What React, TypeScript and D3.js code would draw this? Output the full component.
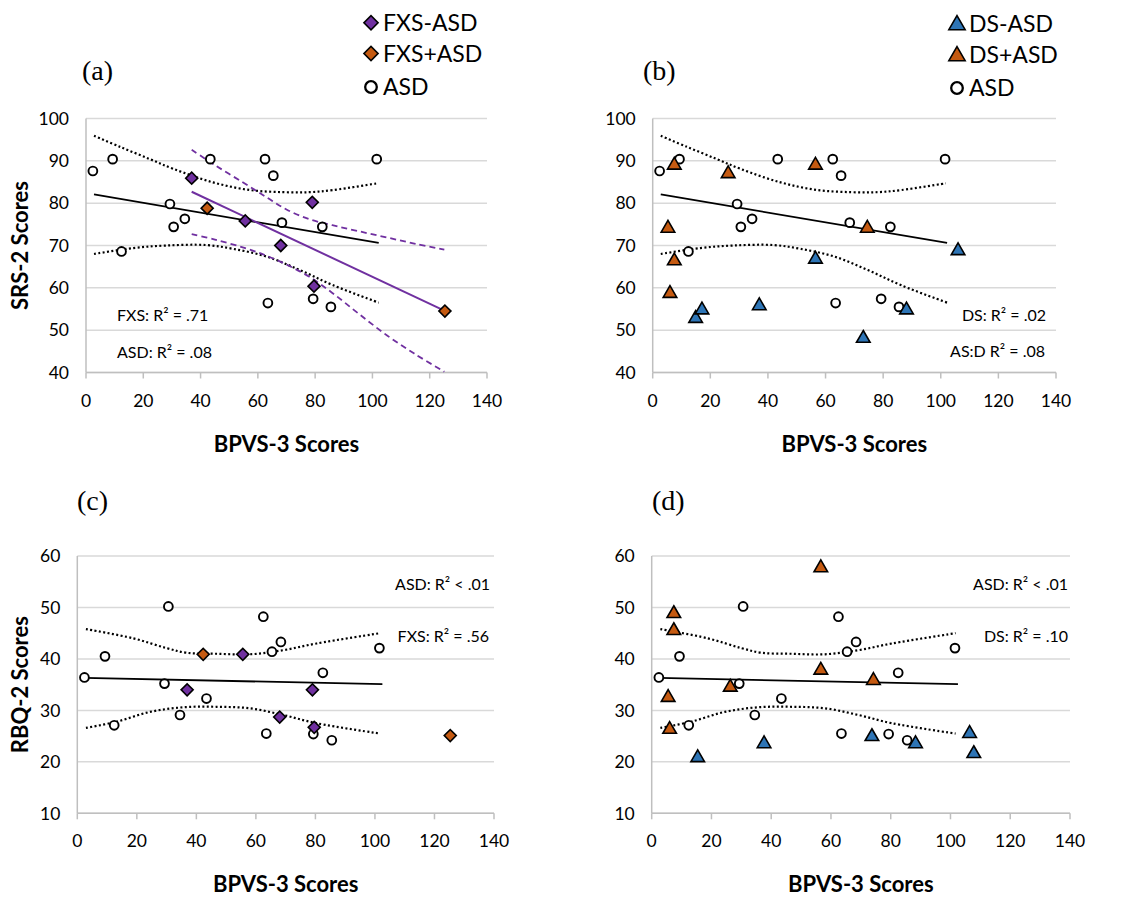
import React from 'react';
import * as d3 from 'd3';

// ---------- data ----------
const xTicks = [0, 20, 40, 60, 80, 100, 120, 140];
const srsTicks = [40, 50, 60, 70, 80, 90, 100];
const rbqTicks = [10, 20, 30, 40, 50, 60];

// ASD group (same participants in all panels)
const asdX = [2.4, 9.3, 12.4, 29.3, 30.6, 34.5, 43.4, 62.5, 63.5, 65.4, 68.4, 79.3, 82.5, 85.5, 101.5];
const asdSRS = [87.6, 90.4, 68.6, 79.8, 74.4, 76.3, 90.4, 90.4, 56.4, 86.5, 75.4, 57.4, 74.4, 55.5, 90.4];
const asdRBQ = [36.4, 40.5, 27.1, 35.2, 50.2, 29.1, 32.3, 48.2, 25.5, 41.4, 43.3, 25.4, 37.3, 24.2, 42.1];

// FXS groups
const fxsMinusX = [36.9, 55.6, 68.0, 79.0, 79.6];
const fxsMinusSRS = [85.9, 75.8, 70.0, 80.2, 60.4];
const fxsMinusRBQ = [34.0, 40.9, 28.7, 34.0, 26.7];
const fxsPlusX = [42.3, 125.3];
const fxsPlusSRS = [78.8, 54.5];
const fxsPlusRBQ = [40.9, 25.1];

// DS groups (panel b)
const dsPlusXb = [7.5, 26.2, 56.5, 5.3, 7.5, 6.0, 74.5];
const dsPlusSRS = [89.2, 87.2, 89.2, 74.3, 66.6, 58.9, 74.3];
const dsMinusXb = [14.9, 17.1, 37.0, 56.5, 73.1, 88.1, 106.0];
const dsMinusSRS = [53.0, 55.0, 56.0, 67.0, 48.3, 55.0, 69.0];
// DS groups (panel d)
const dsPlusXd = [56.6, 7.4, 7.4, 56.6, 74.2, 26.3, 5.5, 6.0];
const dsPlusRBQ = [57.9, 49.0, 45.7, 38.0, 36.0, 34.7, 32.7, 26.5];
const dsMinusXd = [15.4, 37.6, 73.7, 88.3, 106.4, 107.8];
const dsMinusRBQ = [21.0, 23.7, 25.1, 23.7, 25.7, 21.8];

// regression lines [x, y] endpoints
const asdSrsFit: [number, number][] = [[2.8, 82.06], [102.2, 70.6]];
const fxsSrsFit: [number, number][] = [[36.9, 82.7], [125.1, 54.6]];
const asdRbqFit: [number, number][] = [[2.4, 36.3], [102.5, 35.1]];

// confidence bands
const asdSrsUpper: [number, number][] = [[2.8, 95.9], [11.9, 93.3], [22.3, 90.4], [30.5, 88.1], [44.4, 84.9], [57.2, 83.1], [68.8, 82.6], [78.1, 82.6], [86.3, 83.1], [101.8, 84.7]];
const asdSrsLower: [number, number][] = [[2.8, 68.0], [16.5, 69.4], [28.1, 70.0], [42.1, 70.1], [51.4, 69.2], [63, 67.4], [74.7, 64.2], [86.3, 60.6], [102.2, 56.5]];
const fxsSrsUpper: [number, number][] = [[36.9, 92.6], [45, 89.0], [55, 84.8], [63, 81.4], [70, 78.5], [78, 76.2], [86, 74.8], [95, 73.4], [105, 71.9], [115, 70.4], [125.1, 69.0]];
const fxsSrsLower: [number, number][] = [[36.9, 72.7], [45, 71.4], [55, 69.5], [63, 67.6], [70, 65.5], [78, 62.6], [86, 58.8], [95, 54.0], [105, 48.8], [115, 44.3], [125.1, 40.2]];
const asdRbqUpper: [number, number][] = [[2.9, 45.8], [18.8, 44.0], [30, 42.1], [36.7, 41.2], [46.8, 41.0], [58, 40.9], [69.2, 41.7], [80.4, 43.0], [101.7, 45.0]];
const asdRbqLower: [number, number][] = [[2.9, 26.6], [13.2, 27.8], [24.4, 29.7], [35.6, 30.6], [46.8, 30.7], [58, 30.4], [69.2, 29.1], [80.4, 27.5], [101.7, 25.5]];

// ---------- styles ----------
const PURPLE = '#7030A0';
const ORANGE = '#C55A11';
const BLUE = '#2E75B6';
const GRID = '#d9d9d9';
const AXIS = '#bfbfbf';
const FONT = 'Lato, "Open Sans", sans-serif';
const SERIF = '"Liberation Serif", "DejaVu Serif", serif';

type Pt = [number, number];
type Series = { xs: number[]; ys: number[]; kind: 'circle' | 'diamond' | 'triangle'; fill: string };
type LineDef = { pts: Pt[]; color: string; dash?: string; width: number; curve?: boolean };
type Note = { text: string; x: number; y: number; anchor: 'start' | 'end' };

interface PanelProps {
  x0: number; x1: number; yTop: number; yBot: number;
  yDomain: [number, number]; yTicks: number[]; yTitle: string;
  label: string; labelX: number; labelY: number;
  series: Series[]; lines: LineDef[]; notes: Note[];
}

const diamondPath = d3.symbol().type(d3.symbolSquare).size(72)() as string;
const trianglePath = d3.symbol().type(d3.symbolTriangle).size(80)() as string;
const diamondLegend = d3.symbol().type(d3.symbolSquare).size(100)() as string;
const triangleLegend = d3.symbol().type(d3.symbolTriangle).size(115)() as string;

function Marker({ kind, fill, x, y, legend }: { kind: string; fill: string; x: number; y: number; legend?: boolean }) {
  if (kind === 'circle') {
    return <circle cx={x} cy={y} r={legend ? 5.8 : 4.4} fill="#fff" stroke="#000" strokeWidth={legend ? 2.3 : 1.9} />;
  }
  if (kind === 'diamond') {
    return <path d={legend ? diamondLegend : diamondPath} transform={`translate(${x},${y}) rotate(45)`} fill={fill} stroke="#000" strokeWidth={1.6} />;
  }
  return <path d={legend ? triangleLegend : trianglePath} transform={`translate(${x},${y + 1})`} fill={fill} stroke="#000" strokeWidth={1.6} strokeLinejoin="miter" />;
}

function Panel(p: PanelProps) {
  const xs = d3.scaleLinear().domain([0, 140]).range([p.x0, p.x1]);
  const ys = d3.scaleLinear().domain(p.yDomain).range([p.yBot, p.yTop]);
  const straight = d3.line<Pt>().x(d => xs(d[0])).y(d => ys(d[1]));
  const smooth = d3.line<Pt>().x(d => xs(d[0])).y(d => ys(d[1])).curve(d3.curveCatmullRom.alpha(0.5));
  const cx = (p.x0 + p.x1) / 2;
  const cy = (p.yTop + p.yBot) / 2;
  return (
    <g>
      <text x={p.labelX} y={p.labelY} fontFamily={SERIF} fontSize={28} fill="#000">{p.label}</text>
      {p.yTicks.map(t => (
        <line key={'g' + t} x1={p.x0} x2={p.x1} y1={ys(t)} y2={ys(t)} stroke={GRID} strokeWidth={1.5} />
      ))}
      <line x1={p.x0} x2={p.x0} y1={p.yTop} y2={p.yBot} stroke={AXIS} strokeWidth={1.5} />
      <line x1={p.x0} x2={p.x1} y1={p.yBot} y2={p.yBot} stroke={AXIS} strokeWidth={1.5} />
      {xTicks.map(t => (
        <line key={'t' + t} x1={xs(t)} x2={xs(t)} y1={p.yBot} y2={p.yBot + 6} stroke={AXIS} strokeWidth={1.5} />
      ))}
      {p.yTicks.map(t => (
        <text key={'yl' + t} x={p.x0 - 17} y={ys(t)} dy="0.36em" textAnchor="end" fontFamily={FONT} fontSize={17.5} fill="#000">{t}</text>
      ))}
      {xTicks.map(t => (
        <text key={'xl' + t} x={xs(t)} y={p.yBot + 34} textAnchor="middle" fontFamily={FONT} fontSize={17.5} fill="#000">{t}</text>
      ))}
      <text x={cx} y={p.yBot + 79} textAnchor="middle" fontFamily={FONT} fontWeight="bold" fontSize={22} fill="#000">BPVS-3 Scores</text>
      <text transform={`translate(28,${cy}) rotate(-90)`} textAnchor="middle" fontFamily={FONT} fontWeight="bold" fontSize={22} fill="#000">{p.yTitle}</text>
      {p.lines.map((l, i) => (
        <path key={'l' + i} d={(l.curve ? smooth : straight)(l.pts) as string} fill="none" stroke={l.color} strokeWidth={l.width} strokeDasharray={l.dash} />
      ))}
      {p.series.map((s, i) => (
        <g key={'s' + i}>
          {s.xs.map((xv, j) => (
            <Marker key={j} kind={s.kind} fill={s.fill} x={xs(xv)} y={ys(s.ys[j])} />
          ))}
        </g>
      ))}
      {p.notes.map((n, i) => (
        <text key={'n' + i} x={n.x} y={n.y} textAnchor={n.anchor} fontFamily={FONT} fontSize={16} fill="#000">{n.text}</text>
      ))}
    </g>
  );
}

function Legend({ x, rows }: { x: number; rows: { y: number; kind: string; fill: string; label: string }[] }) {
  return (
    <g>
      {rows.map((r, i) => (
        <g key={i}>
          <Marker kind={r.kind} fill={r.fill} x={x} y={r.y} legend />
          <text x={x + 12} y={r.y} dy="0.36em" fontFamily={FONT} fontSize={23} fill="#000">{r.label}</text>
        </g>
      ))}
    </g>
  );
}

const DOT = '2 2.4';

export default function App() {
  const asdLinesSRS: LineDef[] = [
    { pts: asdSrsUpper, color: '#000', dash: DOT, width: 2.2, curve: true },
    { pts: asdSrsLower, color: '#000', dash: DOT, width: 2.2, curve: true },
    { pts: asdSrsFit, color: '#000', width: 1.8 },
  ];
  const asdLinesRBQ: LineDef[] = [
    { pts: asdRbqUpper, color: '#000', dash: DOT, width: 2.2, curve: true },
    { pts: asdRbqLower, color: '#000', dash: DOT, width: 2.2, curve: true },
    { pts: asdRbqFit, color: '#000', width: 1.8 },
  ];
  return (
    <svg width={1148} height={899} style={{ position: 'absolute', left: 0, top: 0, background: '#fff' }}>
      <rect width={1148} height={899} fill="#fff" />
      <Legend x={371} rows={[
        { y: 22.7, kind: 'diamond', fill: PURPLE, label: 'FXS-ASD' },
        { y: 53.5, kind: 'diamond', fill: ORANGE, label: 'FXS+ASD' },
        { y: 87, kind: 'circle', fill: '#fff', label: 'ASD' },
      ]} />
      <Legend x={957} rows={[
        { y: 24, kind: 'triangle', fill: BLUE, label: 'DS-ASD' },
        { y: 55, kind: 'triangle', fill: ORANGE, label: 'DS+ASD' },
        { y: 88, kind: 'circle', fill: '#fff', label: 'ASD' },
      ]} />
      <Panel x0={86} x1={487} yTop={118.5} yBot={372.5} yDomain={[40, 100]} yTicks={srsTicks} yTitle="SRS-2 Scores"
        label="(a)" labelX={82} labelY={80}
        lines={[
          ...asdLinesSRS,
          { pts: fxsSrsUpper, color: PURPLE, dash: '6 4', width: 1.8, curve: true },
          { pts: fxsSrsLower, color: PURPLE, dash: '6 4', width: 1.8, curve: true },
          { pts: fxsSrsFit, color: PURPLE, width: 2 },
        ]}
        series={[
          { xs: asdX, ys: asdSRS, kind: 'circle', fill: '#fff' },
          { xs: fxsMinusX, ys: fxsMinusSRS, kind: 'diamond', fill: PURPLE },
          { xs: fxsPlusX, ys: fxsPlusSRS, kind: 'diamond', fill: ORANGE },
        ]}
        notes={[
          { text: 'FXS: R² = .71', x: 117, y: 321, anchor: 'start' },
          { text: 'ASD: R² = .08', x: 117, y: 358, anchor: 'start' },
        ]} />
      <Panel x0={652.7} x1={1056} yTop={118.5} yBot={372.5} yDomain={[40, 100]} yTicks={srsTicks} yTitle=""
        label="(b)" labelX={643} labelY={80}
        lines={asdLinesSRS}
        series={[
          { xs: asdX, ys: asdSRS, kind: 'circle', fill: '#fff' },
          { xs: dsPlusXb, ys: dsPlusSRS, kind: 'triangle', fill: ORANGE },
          { xs: dsMinusXb, ys: dsMinusSRS, kind: 'triangle', fill: BLUE },
        ]}
        notes={[
          { text: 'DS: R² = .02', x: 1046, y: 321, anchor: 'end' },
          { text: 'AS:D R² = .08', x: 1045, y: 357, anchor: 'end' },
        ]} />
      <Panel x0={77.3} x1={494} yTop={556} yBot={813.3} yDomain={[10, 60]} yTicks={rbqTicks} yTitle="RBQ-2 Scores"
        label="(c)" labelX={77} labelY={510}
        lines={asdLinesRBQ}
        series={[
          { xs: asdX, ys: asdRBQ, kind: 'circle', fill: '#fff' },
          { xs: fxsMinusX, ys: fxsMinusRBQ, kind: 'diamond', fill: PURPLE },
          { xs: fxsPlusX, ys: fxsPlusRBQ, kind: 'diamond', fill: ORANGE },
        ]}
        notes={[
          { text: 'ASD: R² < .01', x: 490, y: 590, anchor: 'end' },
          { text: 'FXS: R² = .56', x: 489, y: 642, anchor: 'end' },
        ]} />
      <Panel x0={651.7} x1={1070} yTop={556} yBot={813.3} yDomain={[10, 60]} yTicks={rbqTicks} yTitle=""
        label="(d)" labelX={652} labelY={510}
        lines={asdLinesRBQ}
        series={[
          { xs: asdX, ys: asdRBQ, kind: 'circle', fill: '#fff' },
          { xs: dsPlusXd, ys: dsPlusRBQ, kind: 'triangle', fill: ORANGE },
          { xs: dsMinusXd, ys: dsMinusRBQ, kind: 'triangle', fill: BLUE },
        ]}
        notes={[
          { text: 'ASD: R² < .01', x: 1068, y: 590, anchor: 'end' },
          { text: 'DS: R² = .10', x: 1068, y: 642, anchor: 'end' },
        ]} />
    </svg>
  );
}
